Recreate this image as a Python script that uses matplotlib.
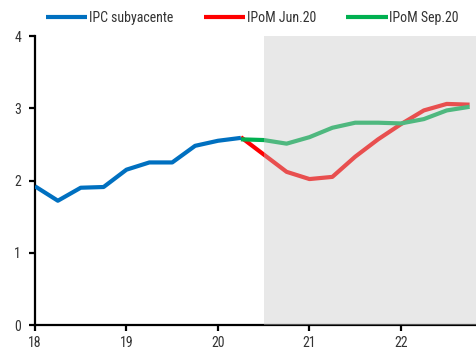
import matplotlib
matplotlib.use("Agg")
import matplotlib.pyplot as plt
from matplotlib import font_manager

# Pick a narrow sans family when one is installed
available = {f.name for f in font_manager.fontManager.ttflist}
family = "DejaVu Sans"
for cand in ["Liberation Sans Narrow", "Roboto Condensed", "Open Sans", "Noto Sans"]:
    if cand in available:
        family = cand
        break
plt.rcParams["font.family"] = [family, "DejaVu Sans"]

# Quarterly data (year fraction, e.g. 18.25 = 2018 Q2)
x_hist = [18.0, 18.25, 18.5, 18.75, 19.0, 19.25, 19.5, 19.75, 20.0, 20.25]
ipc_subyacente = [1.92, 1.72, 1.90, 1.91, 2.15, 2.25, 2.25, 2.48, 2.55, 2.59]

x_proj = [20.25, 20.5, 20.75, 21.0, 21.25, 21.5, 21.75, 22.0, 22.25, 22.5, 22.75]
ipom_jun20 = [2.60, 2.36, 2.12, 2.02, 2.05, 2.33, 2.57, 2.78, 2.97, 3.06, 3.05]
ipom_sep20 = [2.57, 2.56, 2.51, 2.60, 2.73, 2.80, 2.80, 2.79, 2.85, 2.97, 3.02]

x_ticks = [18, 19, 20, 21, 22]
y_ticks = [0, 1, 2, 3, 4]
shade_start = 20.5

fig = plt.figure(figsize=(4.76, 3.52), dpi=100)
ax = fig.add_axes([0.0735, 0.0767, 0.9265, 0.821])

ax.plot(x_hist, ipc_subyacente, color="#0070C0", lw=3, label="IPC subyacente",
        solid_capstyle="butt", zorder=3)
ax.plot(x_proj, ipom_jun20, color="#FF0000", lw=3, label="IPoM Jun.20",
        solid_capstyle="butt", zorder=2)
ax.plot(x_proj, ipom_sep20, color="#00B050", lw=3, label="IPoM Sep.20",
        solid_capstyle="butt", zorder=2.5)

# Projection horizon shading, laid over the lines
ax.axvspan(shade_start, 23, color="#C6C6C6", alpha=0.40, lw=0, zorder=5)

ax.set_xlim(18, 22.82)
ax.set_ylim(0, 4)
ax.set_xticks(x_ticks)
ax.set_xticklabels([str(t) for t in x_ticks])
ax.set_yticks(y_ticks)

for side in ["top", "right"]:
    ax.spines[side].set_visible(False)
for side in ["left", "bottom"]:
    ax.spines[side].set_linewidth(1.6)
    ax.spines[side].set_color("black")
ax.tick_params(axis="both", direction="out", length=4, width=1.6,
               labelsize=10, colors="black", labelcolor="#333333")
ax.tick_params(axis="x", pad=4)
ax.tick_params(axis="y", pad=6)

fig.text(0.0, 1.022, "(variación anual, porcentaje)", fontsize=10,
         color="#333333", ha="left", va="center")

fig.legend(loc="center", bbox_to_anchor=(0.53, 0.949), ncol=3, frameon=False,
           fontsize=10, handlelength=3.0, handletextpad=0.1, columnspacing=2.2,
           labelcolor="#333333")

fig.savefig("out.png", dpi=100)
